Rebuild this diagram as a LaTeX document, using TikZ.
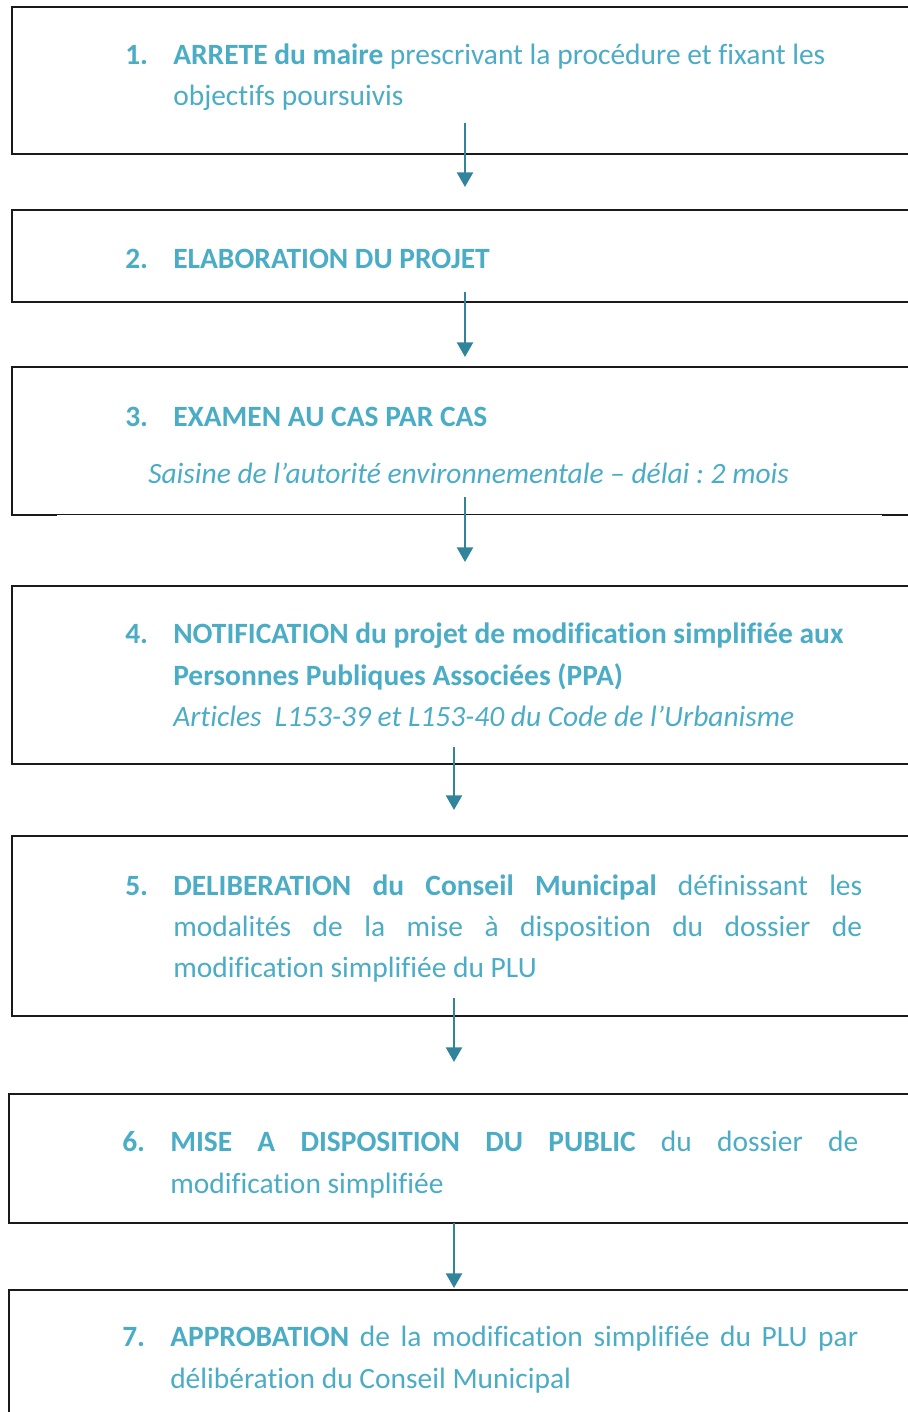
\documentclass[tikz,border=0pt]{standalone}
\usepackage{fontspec}
\setmainfont{Carlito}[Ligatures=NoCommon]
\usetikzlibrary{arrows.meta,fit}
\definecolor{txt}{HTML}{4BACC6}
\definecolor{arr}{HTML}{31849B}
\definecolor{frame}{HTML}{1A1A1A}
\newcommand\stepfont{\fontsize{22.1}{30}\selectfont\frenchspacing}
\tikzset{
  stepbox/.style={draw=frame, line width=1.4pt, inner sep=0pt},
  num/.style={anchor=base west, inner sep=0pt, text=txt, font=\stepfont\bfseries},
  txtline/.style={anchor=base west, inner sep=0pt, text=txt, font=\stepfont},
  flow/.style={draw=arr, line width=1.8pt, -{Triangle[width=12pt,length=11pt]}}
}
\begin{document}
\begin{tikzpicture}[x=0.75pt,y=-0.75pt]
\useasboundingbox (0,0) rectangle (907,1412);
% boxes
\node[stepbox, fit={(12,7) (915,154)}] (b1) {};
\node[stepbox, fit={(12,210) (915,302)}] (b2) {};
\node[stepbox, fit={(12,367) (915,515)}] (b3) {};
\draw[white, line width=1.5pt] (57,515) -- (882,515);
\draw[frame, line width=0.8pt] (57,514.8) -- (882,514.8);
\node[stepbox, fit={(12,586) (915,764)}] (b4) {};
\node[stepbox, fit={(12,836) (915,1016)}] (b5) {};
\node[stepbox, fit={(9,1094) (915,1223)}] (b6) {};
\node[stepbox, fit={(9,1290) (915,1430)}] (b7) {};
% box 1
\node[num] (n1) at (125,65) {1.};
\node[txtline] (t1a) at (173,65) {\textbf{ARRETE du maire} prescrivant la procédure et fixant les};
\node[txtline] (t1b) at (173,106) {objectifs poursuivis};
% box 2
\node[num] (n2) at (125,269) {2.};
\node[txtline] (t2a) at (173,269) {\textbf{ELABORATION DU PROJET}};
% box 3
\node[num] (n3) at (125,426) {3.};
\node[txtline] (t3a) at (173,426) {\textbf{EXAMEN AU CAS PAR CAS}};
\node[txtline] (t3b) at (148,483) {\itshape Saisine de l’autorité environnementale – délai : 2 mois};
% box 4
\node[num] (n4) at (125,643) {4.};
\node[txtline] (t4a) at (173,643) {\textbf{NOTIFICATION du projet de modification simplifiée aux}};
\node[txtline] (t4b) at (173,685) {\textbf{Personnes Publiques Associées (PPA)}};
\node[txtline] (t4c) at (173,726) {\itshape Articles\ \ L153-39 et L153-40 du Code de l’Urbanisme};
% box 5
\node[num] (n5) at (125,895) {5.};
\node[txtline] (t5a) at (173,895) {\makebox[516.75pt][s]{\textbf{DELIBERATION du Conseil Municipal} définissant les}};
\node[txtline] (t5b) at (173,936) {\makebox[516.75pt][s]{modalités de la mise à disposition du dossier de}};
\node[txtline] (t5c) at (173,977) {modification simplifiée du PLU};
% box 6
\node[num] (n6) at (122,1151) {6.};
\node[txtline] (t6a) at (170,1151) {\makebox[516pt][s]{\textbf{MISE A DISPOSITION DU PUBLIC} du dossier de}};
\node[txtline] (t6b) at (170,1193) {modification simplifiée};
% box 7
\node[num] (n7) at (122,1346) {7.};
\node[txtline] (t7a) at (170,1346) {\makebox[516pt][s]{\textbf{APPROBATION} de la modification simplifiée du PLU par}};
\node[txtline] (t7b) at (170,1388) {délibération du Conseil Municipal};
% connectors
\coordinate (a1s) at (465,123); \coordinate (a1e) at (465,187);
\coordinate (a2s) at (465,292); \coordinate (a2e) at (465,357);
\coordinate (a3s) at (465,497); \coordinate (a3e) at (465,562);
\coordinate (a4s) at (454,747); \coordinate (a4e) at (454,810);
\coordinate (a5s) at (454,998); \coordinate (a5e) at (454,1062);
\coordinate (a6s) at (454,1223); \coordinate (a6e) at (454,1288);
\draw[flow] (a1s) -- (a1e);
\draw[flow] (a2s) -- (a2e);
\draw[flow] (a3s) -- (a3e);
\draw[flow] (a4s) -- (a4e);
\draw[flow] (a5s) -- (a5e);
\draw[flow] (a6s) -- (a6e);
\end{tikzpicture}
\end{document}
